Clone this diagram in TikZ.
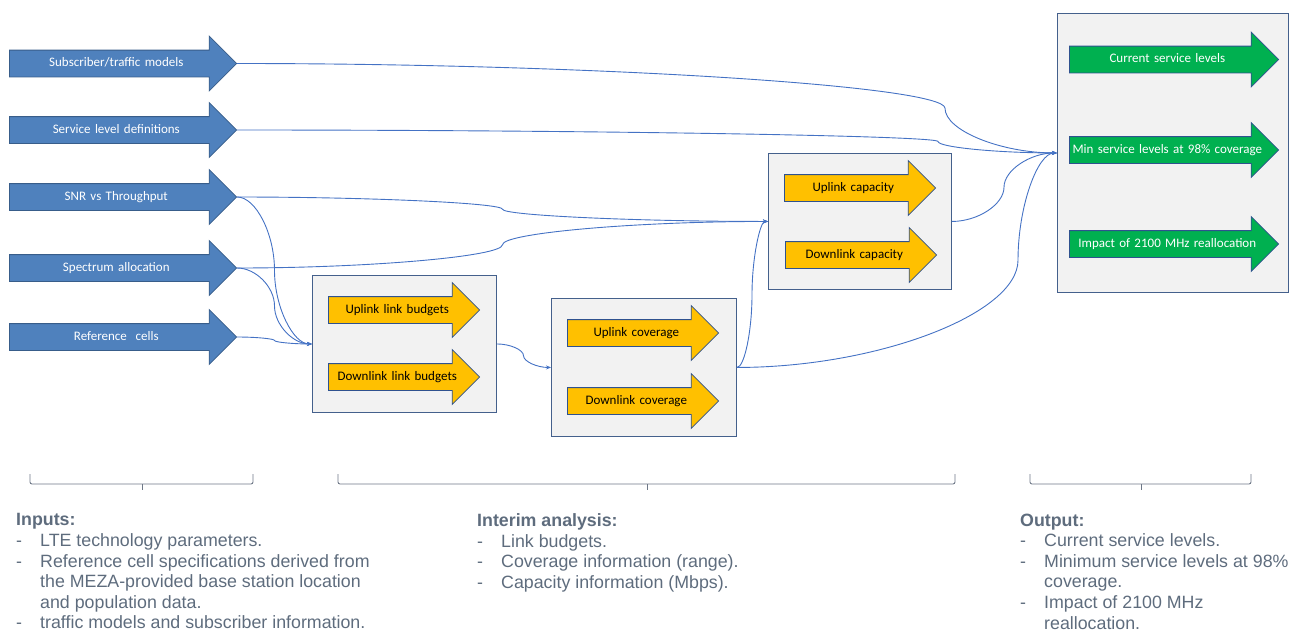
\documentclass[tikz,border=0pt]{standalone}
\usepackage{fontspec}
\setmainfont{Liberation Sans}
\newfontfamily\calibri{Carlito}
\usetikzlibrary{shapes.arrows, calc, arrows.meta}

\definecolor{InBlue}{RGB}{79,129,189}
\definecolor{InEdge}{RGB}{56,93,138}
\definecolor{StepGold}{RGB}{255,192,0}
\definecolor{OutGreen}{RGB}{0,176,80}
\definecolor{ShapeEdge}{RGB}{47,82,143}
\definecolor{BoxFill}{RGB}{242,242,242}
\definecolor{BoxEdge}{RGB}{68,96,140}
\definecolor{LinkBlue}{RGB}{68,114,196}
\definecolor{NoteGrey}{RGB}{94,108,125}
\definecolor{BraceGrey}{RGB}{110,120,135}

% curved connector: from, to, x of the bend
\newcommand{\linkcurve}[3]{%
  \draw[link] let \p1=(#1), \p2=(#2) in (\p1)
    .. controls ({(\x1+#3pt)/2},\y1) and (#3pt,{(3*\y1+\y2)/4}) .. (#3pt,{(\y1+\y2)/2})
    .. controls (#3pt,{(\y1+3*\y2)/4}) and ({(#3pt+\x2)/2},\y2) .. (\p2);}
\newcommand{\itemdash}{\makebox[24pt][l]{-}}
\newcommand{\itemgap}{\hspace*{24pt}}

\begin{document}
\begin{tikzpicture}[x=1pt, y=-1pt,
        flow/.style={single arrow, single arrow head extend=14pt, line width=0.8pt, anchor=tail,
            inner xsep=0pt, inner ysep=7pt, text height=9pt, text depth=3pt, align=center,
            font=\calibri\fontsize{13}{15}\selectfont},
        input/.style={flow, draw=InEdge, fill=InBlue, text=white, text width=213pt},
        interim/.style={flow, draw=ShapeEdge, fill=StepGold, text=black, text width=137pt},
        result/.style={flow, draw=ShapeEdge, fill=OutGreen, text=white, text width=195pt},
        stage/.style={draw=BoxEdge, fill=BoxFill, line width=0.9pt, anchor=north west, inner sep=0pt},
        note/.style={anchor=north west, inner sep=0pt, align=left, text=NoteGrey, font=\fontsize{17.8}{20.6}\selectfont},
        link/.style={draw=LinkBlue, line width=0.9pt, -{Stealth[length=5pt, width=4pt]}},
        bracket/.style={draw=BraceGrey, line width=0.9pt}
    ]
        \useasboundingbox (0,0) rectangle (1289,635);

        % Analysis stages
        \node[stage, minimum width=184pt, minimum height=137pt] (budget) at (312,275) {};
        \node[stage, minimum width=185pt, minimum height=138pt] (cover) at (551,298) {};
        \node[stage, minimum width=183pt, minimum height=136pt] (capa) at (768,153) {};
        \node[stage, minimum width=231pt, minimum height=279pt] (out) at (1057,13) {};

        % Inputs
        \node[input] (subs) at (9,63.5) {Subscriber/traffic models};
        \node[input] (slvl) at (9,130) {Service level definitions};
        \node[input] (snr) at (9,197) {SNR vs Throughput};
        \node[input] (spec) at (9,268) {Spectrum allocation};
        \node[input] (refc) at (9,337) {Reference\ \ cells};

        % Interim steps
        \node[interim] (ulb) at (328,310) {Uplink link budgets};
        \node[interim] (dlb) at (328,377) {Downlink link budgets};
        \node[interim] (ulc) at (567,333) {Uplink coverage};
        \node[interim] (dlc) at (567,401) {Downlink coverage};
        \node[interim] (ulcap) at (784,188) {Uplink capacity};
        \node[interim] (dlcap) at (785,255) {Downlink capacity};

        % Outputs
        \node[result] (cur) at (1069,59.5) {Current service levels};
        \node[result] (minl) at (1069,150) {Min service levels at 98\% coverage};
        \node[result] (imp) at (1069,244) {Impact of 2100 MHz reallocation};

        % Connections
        \linkcurve{subs.tip}{out.west}{945}
        \linkcurve{slvl.tip}{out.west}{938}
        \linkcurve{snr.tip}{capa.west}{502.5}
        \linkcurve{spec.tip}{capa.west}{502.5}
        \linkcurve{snr.tip}{budget.west}{274.5}
        \linkcurve{spec.tip}{budget.west}{274.5}
        \linkcurve{refc.tip}{budget.west}{274.5}
        \linkcurve{budget.east}{cover.west}{523.5}
        \linkcurve{cover.east}{capa.west}{752}
        \linkcurve{cover.east}{out.west}{1018}
        \linkcurve{capa.east}{out.west}{1004}

        % Braces
        \draw[bracket, rounded corners=2pt] (30,474) |- (142,484) -| (253,474);
        \draw[bracket] (142,484) -- (142,490);
        \draw[bracket, rounded corners=2pt] (338,474) |- (647,484) -| (955,474);
        \draw[bracket] (647,484) -- (647,490);
        \draw[bracket, rounded corners=2pt] (1030,474) |- (1141,484) -| (1251,474);
        \draw[bracket] (1141,484) -- (1141,490);

        % Notes
        \node[note] (innote) at (16,513.5) {\textbf{Inputs:}\\
            \itemdash LTE technology parameters.\\
            \itemdash Reference cell specifications derived from\\
            \itemgap the MEZA-provided base station location\\
            \itemgap and population data.\\
            \itemdash traffic models and subscriber information.};
        \node[note] (midnote) at (477,513.5) {\textbf{Interim analysis:}\\
            \itemdash Link budgets.\\
            \itemdash Coverage information (range).\\
            \itemdash Capacity information (Mbps).};
        \node[note] (outnote) at (1020,513.5) {\textbf{Output:}\\
            \itemdash Current service levels.\\
            \itemdash Minimum service levels at 98\%\\
            \itemgap coverage.\\
            \itemdash Impact of 2100 MHz\\
            \itemgap reallocation.};
    \end{tikzpicture}
\end{document}
